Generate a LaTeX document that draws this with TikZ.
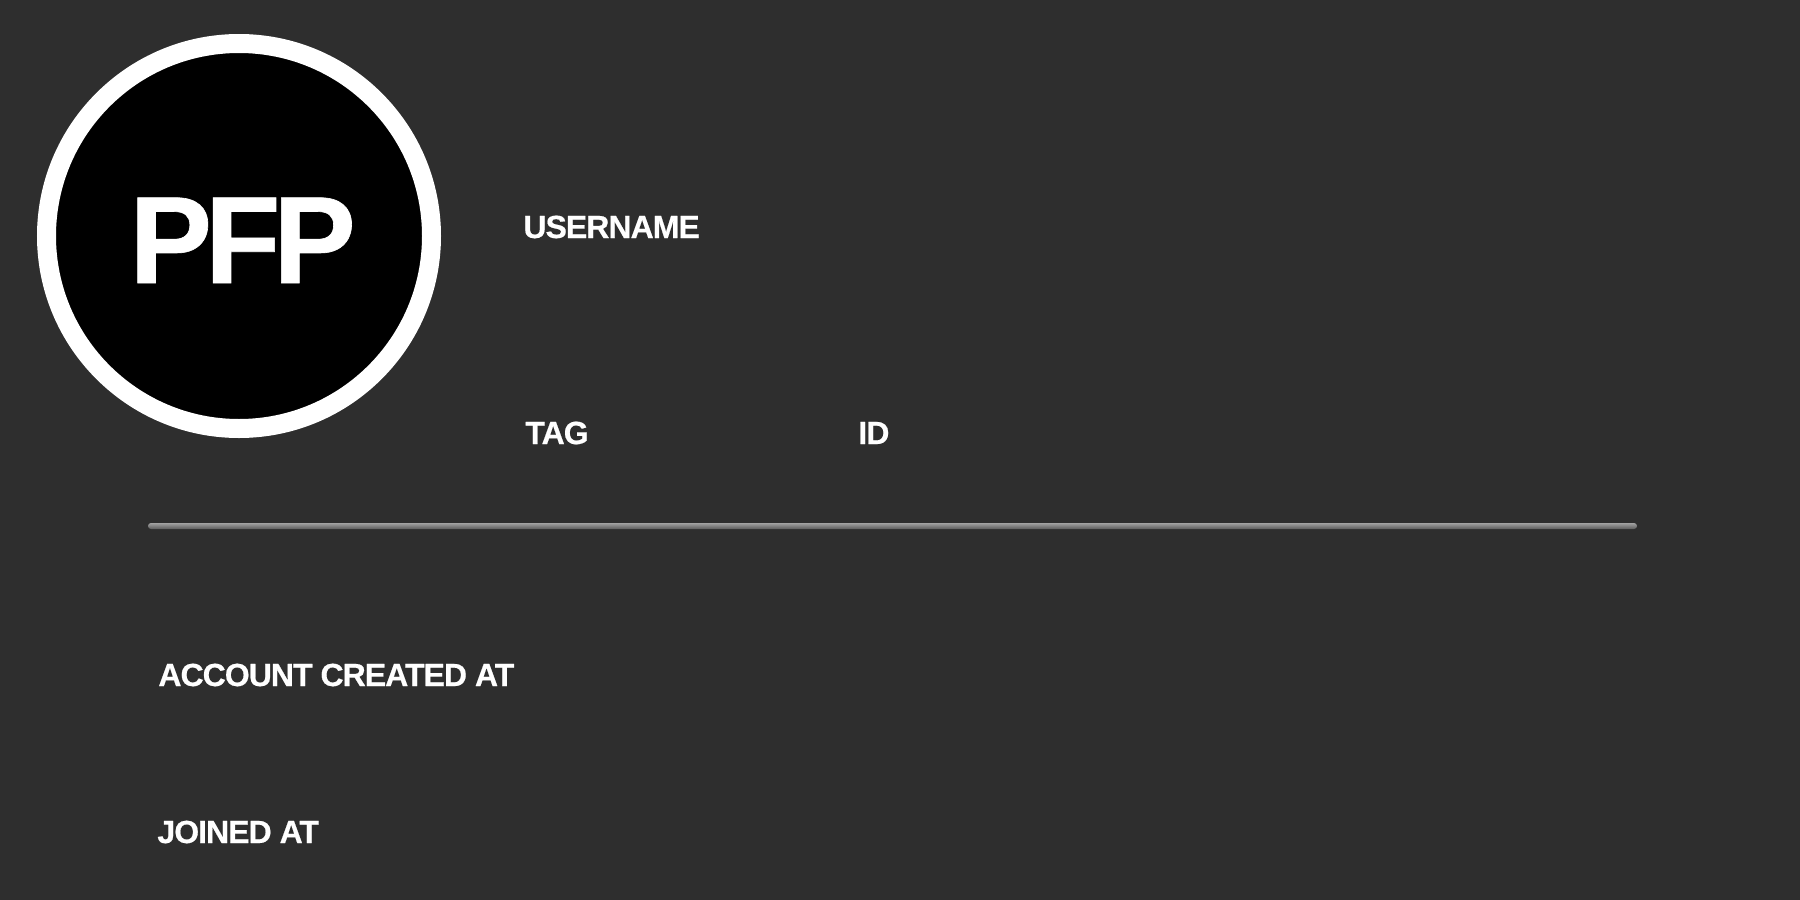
\documentclass[tikz,border=0pt]{standalone}
\usepackage{fontspec}
\setmainfont{Liberation Sans}
\newfontfamily\fieldfont[LetterSpace=-3,FakeBold=0.5]{Liberation Sans}
\newfontfamily\pfpfont[LetterSpace=-6,FakeBold=0.5]{Liberation Sans}
\usetikzlibrary{positioning,calc}
\definecolor{cardbg}{HTML}{2E2E2E}
\definecolor{rulelight}{HTML}{A2A2A2}
\definecolor{ruledark}{HTML}{5C5C5C}
\begin{document}
\begin{tikzpicture}[x=0.5pt,y=-0.5pt] % one unit is one pixel of the card, y runs down
\tikzset{field/.style={text=white,font=\fieldfont\bfseries\fontsize{16}{16}\selectfont,inner sep=0pt,anchor=base west}} % the white captions
\tikzset{avatar/.style={circle,draw=white,line width=9.5pt,fill=black,inner sep=0pt,minimum size=192.5pt}}
\tikzset{avatar text/.style={text=white,font=\pfpfont\bfseries\fontsize{62}{62}\selectfont,inner sep=0pt,anchor=base west}}
\fill[cardbg] (0,0) rectangle (1800,900);
\useasboundingbox (0,0) rectangle (1800,900);
\node[avatar] (pfp) at (239,236) {};
\node[avatar text] (pfptext) at (129,283) {PFP};
\node[field] (username) at (523,238) {USERNAME};
\node[field] (tag) at (525,444) {TAG};
\node[field] (id) at (858,444) {ID};
\coordinate (divl) at (148,526);
\coordinate (divr) at (1637,526);
\shade[top color=rulelight,bottom color=ruledark,rounded corners=1.5pt] ($(divl)+(0,-3)$) rectangle ($(divr)+(0,3)$);
\node[field] (created) at (158,686) {ACCOUNT CREATED AT};
\node[field] (joined) at (157,843) {JOINED AT};
\end{tikzpicture}
\end{document}
